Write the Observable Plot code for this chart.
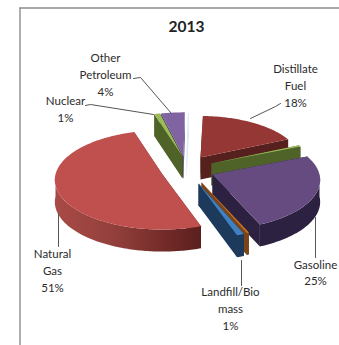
<!DOCTYPE html>
<html>
<head>
<meta charset="utf-8">
<script src="https://cdn.jsdelivr.net/npm/d3@7"></script>
<script src="https://cdn.jsdelivr.net/npm/@observablehq/plot@0.6"></script>
<style>
  html, body { margin: 0; padding: 0; background: #fff; }
</style>
</head>
<body>
<div id="chart"></div>
<script>
// Energy sources, clockwise from twelve o'clock; blank names are unlabelled slivers.
const sources = ["Distillate Fuel", "", "Gasoline", "", "Landfill/Biomass", "Natural Gas", "Nuclear", "Other Petroleum", ""];
const shares = [18, 0.5, 25, 0.3, 1, 51, 1, 4, 0.2];
const topColors = ["#953735", "#9bbb59", "#664b80", "#c8702a", "#3f82c4", "#c0504d", "#9bbb59", "#8064a2", "#dcecf5"];
const wallColors = ["#55201e", "#4f6228", "#2c2140", "#7a4518", "#1d3a5c", "url(#gasWall)", "#4f6228", "#3d2c55", "#dcecf5"];

// Where each exploded wedge's tip sits, its size relative to the pie, and the back-to-front paint order.
const tipX = [200, 211, 212, 201, 198, 162, 182, 183, 186];
const tipY = [157, 163, 174, 182, 183, 174, 156, 156, 157];
const wedgeScale = [0.94, 0.94, 1, 1, 1, 1, 1, 1, 1];
const paintOrder = [8, 7, 6, 0, 1, 5, 2, 3, 4];

// Pie shape: horizontal radius, vertical radius, perspective, thickness, rotation.
const radiusX = 107, radiusY = 49, perspective = 0.11, depth = 22, turn = 1.5;

const title = "2013";
const labels = ["Other\nPetroleum\n4%", "Nuclear\n1%", "Distillate\nFuel\n18%", "Gasoline\n25%", "Landfill/Bio\nmass\n1%", "Natural\nGas\n51%"];
const labelX = [105, 65, 295, 315, 230, 52];
const labelY = [73, 107.5, 84, 271, 307, 269];

const leaders = [
  [[133, 78], [140, 77], [171, 113]],
  [[85, 105], [90, 104], [153, 114]],
  [[280, 103], [275, 106], [250, 118]],
  [[315, 217], [315, 257]],
  [[241, 260], [241, 285]],
  [[58, 213], [58, 246]]
];

const rad = d => d * Math.PI / 180;
const total = d3.sum(shares);

// Angular extent of every wedge, derived from its share.
let running = turn;
const spans = shares.map(s => {
  const start = running;
  running += s / total * 360;
  return [start, running];
});

// Tilted disc with a mild perspective: nearer points spread wider.
function onRim(i, deg, drop = 0) {
  const w = 1 + perspective * Math.cos(rad(deg));
  return {
    x: tipX[i] + wedgeScale[i] * radiusX * Math.sin(rad(deg)) / w,
    y: tipY[i] - wedgeScale[i] * radiusY * Math.cos(rad(deg)) / w + drop
  };
}
const tip = (i, drop = 0) => ({x: tipX[i], y: tipY[i] + drop});
const arc = (i, a, b, drop = 0) => {
  const n = Math.max(2, Math.ceil(Math.abs(b - a)));
  return d3.range(n + 1).map(k => onRim(i, a + (b - a) * k / n, drop));
};

function wedgeMarks(i) {
  const [a, b] = spans[i];
  const shape = (points, fill) => Plot.line(points, {x: "x", y: "y", fill, stroke: "none", curve: "linear"});
  const marks = [];
  // Side walls along both straight edges
  for (const edge of [a, b]) {
    marks.push(shape([tip(i), onRim(i, edge), onRim(i, edge, depth), tip(i, depth)], i === 5 ? "#5a1f1d" : wallColors[i]));
  }
  // Outer wall, only where the rim faces the viewer
  const from = Math.max(a, 90), to = Math.min(b, 270);
  if (to > from) {
    marks.push(shape([...arc(i, from, to), ...arc(i, to, from, depth)], wallColors[i]));
  }
  // Top face
  marks.push(shape([tip(i), ...arc(i, a, b)], topColors[i]));
  return marks;
}

const gradient = () => {
  const defs = d3.create("svg:defs");
  const g = defs.append("linearGradient").attr("id", "gasWall").attr("x1", 1).attr("x2", 0).attr("y1", 0).attr("y2", 0);
  [[0, "#5a1f1d"], [0.25, "#732b29"], [0.6, "#93403c"], [1, "#a94a46"]].forEach(([o, c]) =>
    g.append("stop").attr("offset", o).attr("stop-color", c));
  return defs.node();
};

const font = "Lato, 'Open Sans', sans-serif";

const chart = Plot.plot({
  width: 339,
  height: 345,
  margin: 0,
  x: {domain: [0, 339], range: [0, 339], axis: null},
  y: {domain: [0, 345], range: [0, 345], axis: null},
  style: {background: "#fff", fontFamily: font},
  marks: [
    gradient,
    Plot.ruleX([19.5], {y1: 7.5, y2: 345, stroke: "#8c8c8c", strokeWidth: 1.4}),
    Plot.ruleY([7.5], {x1: 19.5, x2: 339, stroke: "#8c8c8c", strokeWidth: 1.4}),
    ...paintOrder.flatMap(wedgeMarks),
    ...leaders.map(l => Plot.line(l.map(([x, y]) => ({x, y})), {x: "x", y: "y", stroke: "#555", strokeWidth: 1, curve: "linear"})),
    Plot.text([title], {x: 186, y: 27, text: d => d, fontSize: 15.5, fontWeight: "bold", fill: "#222", textAnchor: "middle"}),
    Plot.text(labels, {
      x: (d, i) => labelX[i],
      y: (d, i) => labelY[i],
      text: d => d,
      fontSize: 11.5,
      lineHeight: 1.45,
      fill: "#2b2b2b",
      textAnchor: "middle"
    })
  ]
});
document.getElementById("chart").append(chart);
</script>
</body>
</html>
